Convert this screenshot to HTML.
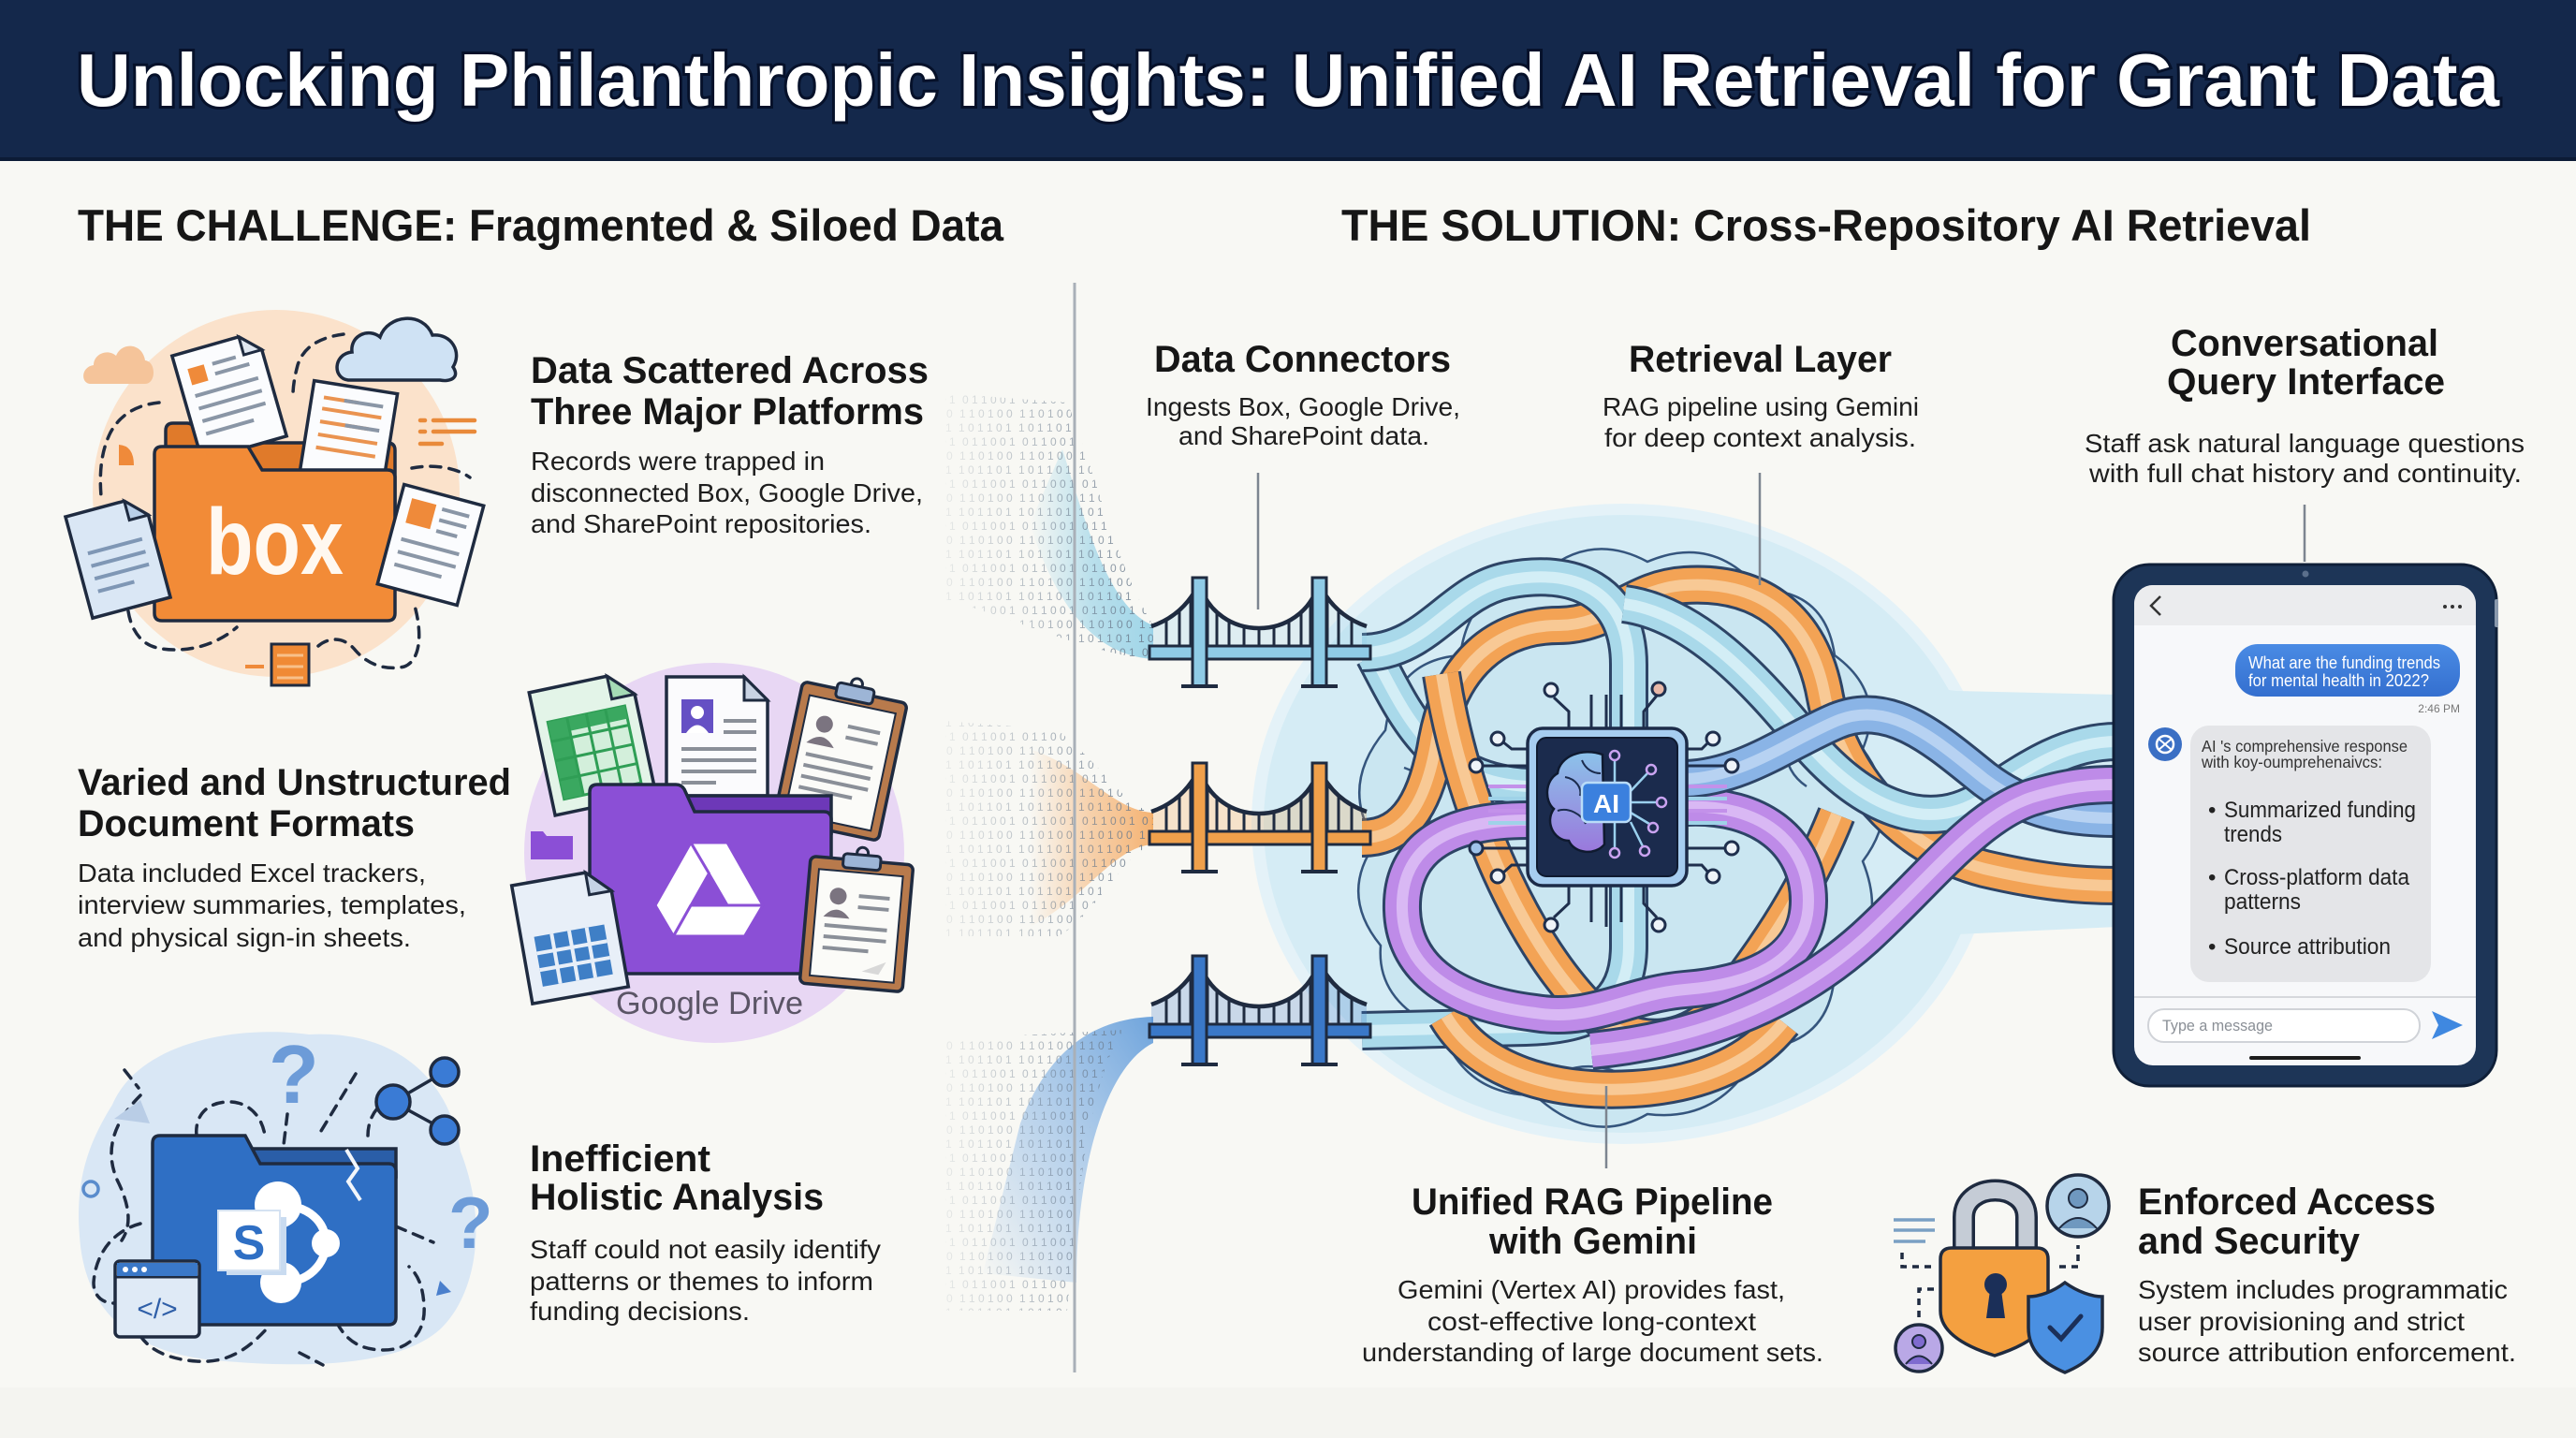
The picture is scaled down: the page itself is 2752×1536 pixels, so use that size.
<!DOCTYPE html>
<html><head><meta charset="utf-8">
<style>
html,body{margin:0;padding:0;background:#f8f8f4;}
svg{display:block}
text{font-family:"Liberation Sans",Arial,sans-serif;}
</style></head>
<body>
<svg width="2752" height="1536" viewBox="0 0 2752 1536" xmlns="http://www.w3.org/2000/svg">
<defs>
  <pattern id="digits" width="64" height="45" patternUnits="userSpaceOnUse">
    <text x="0" y="11" font-family="Liberation Mono, monospace" font-size="12" fill="#6a7a8c">1 0 1 1 0 1</text>
    <text x="4" y="26" font-family="Liberation Mono, monospace" font-size="12" fill="#6a7a8c">0 1 1 0 0 1</text>
    <text x="1" y="41" font-family="Liberation Mono, monospace" font-size="12" fill="#6a7a8c">1 1 0 1 0 0</text>
  </pattern>
  <linearGradient id="fadeL" x1="0" x2="1" y1="0" y2="0">
    <stop offset="0" stop-color="#fff" stop-opacity="0.05"/>
    <stop offset="0.6" stop-color="#fff" stop-opacity="0.6"/>
    <stop offset="1" stop-color="#fff" stop-opacity="0.9"/>
  </linearGradient>
  <mask id="mFade" maskUnits="userSpaceOnUse" x="990" y="400" width="250" height="1020">
    <rect x="990" y="400" width="250" height="1020" fill="url(#fadeL)"/>
  </mask>
  <linearGradient id="gTop" x1="0" x2="1" y1="0" y2="0">
    <stop offset="0" stop-color="#9fd5e8" stop-opacity="0"/>
    <stop offset="0.5" stop-color="#9fd5e8" stop-opacity="0.7"/>
    <stop offset="1" stop-color="#9fd5e8"/>
  </linearGradient>
  <linearGradient id="gMid" x1="0" x2="1" y1="0" y2="0">
    <stop offset="0" stop-color="#f6bf8a" stop-opacity="0"/>
    <stop offset="0.5" stop-color="#f6bf8a" stop-opacity="0.7"/>
    <stop offset="1" stop-color="#f4b272"/>
  </linearGradient>
  <linearGradient id="gBot" x1="1" y1="0" x2="0" y2="1">
    <stop offset="0" stop-color="#6fa4dc"/>
    <stop offset="0.6" stop-color="#8db8e6" stop-opacity="0.5"/>
    <stop offset="1" stop-color="#8db8e6" stop-opacity="0"/>
  </linearGradient>
  <linearGradient id="gBubble" x1="0" x2="0" y1="0" y2="1">
    <stop offset="0" stop-color="#4a8be4"/>
    <stop offset="1" stop-color="#346fcf"/>
  </linearGradient>
  <linearGradient id="gBrain" x1="0" x2="0" y1="0" y2="1">
    <stop offset="0" stop-color="#8cc3ea"/>
    <stop offset="1" stop-color="#9a78dc"/>
  </linearGradient>
  <clipPath id="screenClip"><rect x="2280" y="625" width="365" height="513" rx="20"/></clipPath>

  <g id="bridge">
    <path d="M0,-28 Q35,-40 51,-74 C70,-10 160,-10 179,-74 Q195,-40 230,-28 L230,-6 L0,-6 Z" fill="currentColor" fill-opacity="0.25"/>
    <path d="M16,-35V-6 M30,-45V-6 M42,-58V-6 M60,-55V-6 M70,-43V-6 M83,-34V-6 M99,-28V-6 M115,-26V-6 M131,-28V-6 M147,-34V-6 M160,-43V-6 M170,-55V-6 M188,-58V-6 M200,-45V-6 M214,-35V-6" stroke="#1f2b40" stroke-width="3" fill="none"/>
    <path d="M0,-28 Q35,-40 51,-74 C70,-10 160,-10 179,-74 Q195,-40 230,-28" stroke="#1f2b40" stroke-width="4.5" fill="none"/>
    <rect x="-2" y="-7" width="236" height="14" fill="currentColor" stroke="#1f2b40" stroke-width="3"/>
    <rect x="44" y="-80" width="15" height="116" fill="currentColor" stroke="#1f2b40" stroke-width="3"/>
    <rect x="172" y="-80" width="15" height="116" fill="currentColor" stroke="#1f2b40" stroke-width="3"/>
    <path d="M32,36 H71 M160,36 H199" stroke="#1f2b40" stroke-width="4"/>
  </g>

  <path id="tC2" d="M1468,700 C1500,760 1530,835 1632,840"/>
  <path id="tO1" d="M1455,895 C1505,895 1525,850 1535,790 C1550,710 1600,668 1665,668 C1720,668 1745,628 1800,625 C1880,620 1935,660 1950,745 C1965,825 2030,905 2120,928 C2180,942 2220,946 2262,946"/>
  <path id="tC1" d="M1455,697 C1525,697 1550,632 1610,620 C1680,606 1740,630 1740,710 L1740,1010 C1740,1075 1700,1095 1630,1097 L1455,1101"/>
  <path id="tO2" d="M1540,720 C1560,850 1620,1000 1700,1080 C1745,1122 1805,1118 1845,1068 C1890,1010 1930,950 1962,870"/>
  <path id="tO3" d="M1545,1085 C1580,1145 1660,1168 1745,1163 C1825,1158 1875,1130 1905,1092"/>
  <path id="tP1" d="M1801,862 C1880,858 1932,900 1932,962 C1932,1032 1862,1052 1800,1057 C1740,1062 1700,1092 1640,1082 C1560,1072 1500,1040 1498,972 C1496,910 1540,876 1632,876"/>
  <path id="tC3" d="M1735,645 C1810,655 1875,725 1930,792 C1990,862 2060,892 2120,852 C2170,818 2210,792 2262,792"/>
  <path id="tB" d="M1801,832 C1862,830 1910,792 1962,770 C2020,746 2070,792 2120,832 C2170,870 2220,874 2262,874"/>
  <path id="tP2" d="M1700,1122 C1800,1112 1905,1080 1992,1002 C2060,940 2110,872 2170,852 C2210,840 2232,838 2262,838"/>
</defs>

<!-- background -->
<rect width="2752" height="1536" fill="#f8f8f4"/>
<rect y="1482" width="2752" height="54" fill="#f4f4f0"/>

<!-- header -->
<rect width="2752" height="172" fill="#14284b"/>
<rect y="168" width="2752" height="4" fill="#0c1b36"/>
<text x="82" y="113" font-size="80" font-weight="700" fill="#ffffff" stroke="#06112a" stroke-width="6" paint-order="stroke" textLength="2588" lengthAdjust="spacingAndGlyphs">Unlocking Philanthropic Insights: Unified AI Retrieval for Grant Data</text>

<!-- section headings -->
<text x="83" y="257" font-size="47" font-weight="700" fill="#161616" textLength="989" lengthAdjust="spacingAndGlyphs">THE CHALLENGE: Fragmented &amp; Siloed Data</text>
<text x="1433" y="257" font-size="47" font-weight="700" fill="#161616" textLength="1036" lengthAdjust="spacingAndGlyphs">THE SOLUTION: Cross-Repository AI Retrieval</text>

<!-- ============ BOX ILLUSTRATION ============ -->
<circle cx="295" cy="527" r="196" fill="#fbe2cb"/>
<path d="M97,410 C86,410 86,392 100,390 C100,378 115,372 124,380 C130,365 152,366 155,385 C167,386 167,410 155,410 Z" fill="#f5c49a"/>
<path d="M372,406 C355,404 356,378 376,376 C374,358 394,350 406,360 C414,336 452,332 462,358 C482,356 494,376 484,392 C492,404 480,408 470,406 Z" fill="#cfe2f4" stroke="#1f2b40" stroke-width="3.5"/>
<g fill="none" stroke="#1f2b40" stroke-width="3.5" stroke-dasharray="11 9" stroke-linecap="round">
  <path d="M170,430 C150,432 130,440 118,462 C108,482 106,505 108,530"/>
  <path d="M367,357 C345,360 325,368 318,390 C314,405 313,415 313,422"/>
  <path d="M440,500 C460,496 485,498 502,510"/>
  <path d="M137,653 C140,672 150,688 168,692 C190,697 225,694 253,670"/>
  <path d="M340,690 C352,680 368,680 380,695 C395,712 415,716 432,712 C448,706 452,680 443,647"/>
</g>
<path d="M127,475 Q143,476 143,497 L127,497 Z" fill="#ef8a3a"/>
<g stroke="#e98a3a" stroke-width="4.5" stroke-linecap="round">
  <path d="M449,449 H454 M463,449 H507 M449,461 H454 M463,461 H507 M449,474 H472"/>
</g>
<rect x="290" y="688" width="40" height="44" fill="#f08a35" stroke="#1f2b40" stroke-width="3"/>
<path d="M296,700 H324 M296,712 H324 M296,724 H324" stroke="#f8c08a" stroke-width="3"/>
<path d="M262,712 H282" stroke="#ef8a3a" stroke-width="4"/>
<!-- folder back -->
<path d="M177,520 L177,460 Q177,452 185,452 L200,452 Q206,452 208,459 L212,473 L414,473 Q422,473 422,481 L422,540 Z" fill="#e07a2a" stroke="#1f2b40" stroke-width="3.5"/>
<!-- docs inside -->
<g transform="translate(245,423) rotate(-16)">
  <path d="M-47,-58 L27,-58 L47,-38 L47,58 L-47,58 Z" fill="#fbfcfe" stroke="#1f2b40" stroke-width="3.5"/>
  <path d="M27,-58 L27,-38 L47,-38 Z" fill="#dfe7f1" stroke="#1f2b40" stroke-width="3"/>
  <rect x="-35" y="-40" width="18" height="18" fill="#ef8a3a"/>
  <path d="M-8,-38 H18 M-8,-27 H30 M-35,-10 H35 M-35,4 H35 M-35,18 H35 M-35,32 H18" stroke="#8a96a6" stroke-width="4"/>
</g>
<g transform="translate(372,465) rotate(9)">
  <rect x="-45" y="-52" width="90" height="104" fill="#fbfcfe" stroke="#1f2b40" stroke-width="3.5"/>
  <path d="M-32,-36 H5 M-32,-24 H32 M-32,-10 H20 M-32,4 H32 M-32,18 H32" stroke="#ea9350" stroke-width="4"/>
  <path d="M-10,-36 H32 M-5,-10 H32" stroke="#8a96a6" stroke-width="4"/>
</g>
<!-- folder front -->
<path d="M165,485 Q165,477 173,477 L265,477 L280,502 L414,502 Q422,502 422,510 L422,655 Q422,663 414,663 L173,663 Q165,663 165,655 Z" fill="#f28b37" stroke="#1f2b40" stroke-width="3.5"/>
<text x="220" y="613" font-size="100" font-weight="700" fill="#fff8f0" textLength="147" lengthAdjust="spacingAndGlyphs">box</text>
<!-- docs outside -->
<g transform="translate(126,595) rotate(-15)">
  <path d="M-43,-56 L22,-56 L43,-35 L43,56 L-43,56 Z" fill="#dae7f5" stroke="#1f2b40" stroke-width="3.5"/>
  <path d="M22,-56 L22,-35 L43,-35 Z" fill="#b9cfe8" stroke="#1f2b40" stroke-width="3"/>
  <path d="M-30,-12 H30 M-30,2 H30 M-30,16 H30 M-30,30 H10" stroke="#7f97b5" stroke-width="4"/>
</g>
<g transform="translate(460,582) rotate(15)">
  <rect x="-44" y="-55" width="88" height="110" fill="#fbfcfe" stroke="#1f2b40" stroke-width="3.5"/>
  <rect x="-32" y="-43" width="27" height="27" fill="#ef8a3a"/>
  <path d="M2,-40 H32 M2,-28 H32 M2,-16 H25 M-32,2 H32 M-32,16 H32 M-32,30 H20" stroke="#8a96a6" stroke-width="4"/>
</g>

<!-- Left text block 1 -->
<g font-weight="700" font-size="40" fill="#161616">
  <text x="567" y="409" textLength="425" lengthAdjust="spacingAndGlyphs">Data Scattered Across</text>
  <text x="567" y="453" textLength="420" lengthAdjust="spacingAndGlyphs">Three Major Platforms</text>
</g>
<g font-size="28" fill="#1e1e1e">
  <text x="567" y="502" textLength="314" lengthAdjust="spacingAndGlyphs">Records were trapped in</text>
  <text x="567" y="536" textLength="419" lengthAdjust="spacingAndGlyphs">disconnected Box, Google Drive,</text>
  <text x="567" y="569" textLength="364" lengthAdjust="spacingAndGlyphs">and SharePoint repositories.</text>
</g>

<!-- ============ GOOGLE DRIVE ILLUSTRATION ============ -->
<circle cx="763" cy="911" r="203" fill="#e8d7f4"/>
<g transform="translate(633,794) rotate(-12)">
  <path d="M-55,-67 L30,-67 L55,-42 L55,67 L-55,67 Z" fill="#e3f4e8" stroke="#1f2b40" stroke-width="3.5"/>
  <path d="M30,-67 L30,-42 L55,-42 Z" fill="#a5dbb5" stroke="#1f2b40" stroke-width="3"/>
  <rect x="-42" y="-32" width="84" height="84" fill="#d3efdb" stroke="#2f9e55" stroke-width="3"/>
  <rect x="-42" y="-32" width="21" height="84" fill="#3aa860"/>
  <rect x="-42" y="-32" width="84" height="14" fill="#3aa860"/>
  <path d="M-21,-32 V52 M0,-32 V52 M21,-32 V52 M-42,-11 H42 M-42,10 H42 M-42,31 H42" stroke="#2f9e55" stroke-width="3"/>
</g>
<path d="M712,723 L795,723 L820,748 L820,850 L712,850 Z" fill="#fbfbfd" stroke="#1f2b40" stroke-width="3.5"/>
<path d="M795,723 L795,748 L820,748 Z" fill="#c9d3e3" stroke="#1f2b40" stroke-width="3"/>
<rect x="728" y="747" width="34" height="36" fill="#6550c4"/>
<circle cx="745" cy="761" r="7" fill="#fff"/>
<path d="M733,783 Q745,766 757,783 Z" fill="#fff"/>
<path d="M773,770 H808 M773,782 H808 M728,800 H808 M728,812 H808 M728,824 H808 M728,836 H765" stroke="#8a8f98" stroke-width="4"/>
<g transform="translate(898,813) rotate(12)">
  <rect x="-57" y="-75" width="114" height="150" rx="6" fill="#b87a4c" stroke="#1f2b40" stroke-width="3.5"/>
  <rect x="-47" y="-62" width="94" height="128" fill="#fbfbf8" stroke="#1f2b40" stroke-width="2"/>
  <circle cx="0" cy="-84" r="6" fill="none" stroke="#1f2b40" stroke-width="3"/>
  <rect x="-20" y="-82" width="40" height="16" rx="4" fill="#9db5d6" stroke="#1f2b40" stroke-width="3"/>
  <circle cx="-25" cy="-35" r="9" fill="#7b7480"/>
  <path d="M-40,-12 Q-25,-30 -10,-12 Z" fill="#7b7480"/>
  <path d="M0,-38 H35 M0,-26 H35 M-38,0 H35 M-38,12 H35 M-38,24 H35 M-38,36 H20" stroke="#8a8f98" stroke-width="4"/>
</g>
<path d="M567,888 L580,888 L584,893 L612,893 L612,918 L567,918 Z" fill="#8b4fd6"/>
<!-- folder -->
<rect x="720" y="850" width="168" height="40" fill="#6d38b8" stroke="#1f2b40" stroke-width="3.5"/>
<path d="M630,846 Q630,838 638,838 L722,838 Q728,838 731,843 L742,867 L880,867 Q888,867 888,875 L888,1032 Q888,1040 880,1040 L638,1040 Q630,1040 630,1032 Z" fill="#8b4fd6" stroke="#1f2b40" stroke-width="3.5"/>
<g fill="#ffffff" stroke="#8b4fd6" stroke-width="3" stroke-linejoin="round">
  <polygon points="738,900 777,900 815,967 777,967"/>
  <polygon points="738,900 757.5,933 719.5,1000 700,967"/>
  <polygon points="738,967 815,967 795.5,1000 719.5,1000"/>
</g>
<g transform="translate(609,1000) rotate(-10)">
  <path d="M-52,-64 L28,-64 L52,-40 L52,64 L-52,64 Z" fill="#e8eff8" stroke="#1f2b40" stroke-width="3.5"/>
  <path d="M28,-64 L28,-40 L52,-40 Z" fill="#c5d3e6" stroke="#1f2b40" stroke-width="3"/>
  <rect x="-38" y="-6" width="76" height="54" fill="#3f7fc6"/>
  <path d="M-19,-6 V48 M0,-6 V48 M19,-6 V48 M-38,12 H38 M-38,30 H38" stroke="#e8eff8" stroke-width="4"/>
</g>
<g transform="translate(915,987) rotate(5)">
  <rect x="-55" y="-68" width="110" height="136" rx="6" fill="#b87a4c" stroke="#1f2b40" stroke-width="3.5"/>
  <rect x="-45" y="-55" width="90" height="114" fill="#fbfbf8" stroke="#1f2b40" stroke-width="2"/>
  <circle cx="0" cy="-76" r="6" fill="none" stroke="#1f2b40" stroke-width="3"/>
  <rect x="-20" y="-74" width="40" height="15" rx="4" fill="#9db5d6" stroke="#1f2b40" stroke-width="3"/>
  <circle cx="-22" cy="-28" r="9" fill="#7b7480"/>
  <path d="M-36,-5 Q-22,-22 -8,-5 Z" fill="#7b7480"/>
  <path d="M0,-30 H33 M0,-18 H33 M-34,4 H33 M-34,16 H33 M-34,28 H15" stroke="#8a8f98" stroke-width="4"/>
  <path d="M10,50 L35,38 L28,52 Z" fill="#d8d8d8"/>
</g>
<text x="658" y="1083" font-size="34" fill="#5b5566" textLength="200" lengthAdjust="spacingAndGlyphs">Google Drive</text>

<!-- Left text block 2 -->
<g font-weight="700" font-size="40" fill="#161616">
  <text x="83" y="849" textLength="463" lengthAdjust="spacingAndGlyphs">Varied and Unstructured</text>
  <text x="83" y="893" textLength="360" lengthAdjust="spacingAndGlyphs">Document Formats</text>
</g>
<g font-size="28" fill="#1e1e1e">
  <text x="83" y="942" textLength="372" lengthAdjust="spacingAndGlyphs">Data included Excel trackers,</text>
  <text x="83" y="976" textLength="415" lengthAdjust="spacingAndGlyphs">interview summaries, templates,</text>
  <text x="83" y="1011" textLength="356" lengthAdjust="spacingAndGlyphs">and physical sign-in sheets.</text>
</g>

<!-- ============ SHAREPOINT ILLUSTRATION ============ -->
<path d="M120,1180 C150,1110 260,1095 330,1105 C420,1100 480,1150 492,1230 C520,1300 512,1380 470,1420 C420,1465 300,1460 220,1452 C140,1442 90,1400 85,1320 C80,1260 95,1220 120,1180 Z" fill="#d9e7f5"/>
<g fill="none" stroke="#1f2b40" stroke-width="3.5" stroke-dasharray="11 9" stroke-linecap="round">
  <path d="M210,1213 C208,1195 218,1178 243,1177 C265,1176 280,1192 283,1213"/>
  <path d="M307,1190 L303,1223"/>
  <path d="M380,1147 L340,1213"/>
  <path d="M150,1170 C125,1195 110,1225 125,1260 C140,1290 140,1310 130,1325"/>
  <path d="M150,1307 C120,1315 102,1340 100,1370 C100,1385 110,1392 122,1392"/>
  <path d="M150,1427 C160,1442 180,1452 210,1454 C240,1456 262,1445 287,1417"/>
  <path d="M360,1413 C370,1432 385,1442 410,1442 C440,1442 455,1420 453,1395 C452,1375 447,1362 437,1353"/>
  <path d="M423,1310 L463,1327"/>
  <path d="M393,1213 C393,1200 398,1186 410,1178"/>
  <path d="M133,1143 L148,1162"/>
  <path d="M320,1445 L345,1458"/>
</g>
<path d="M122,1195 L150,1175 L160,1200 Z" fill="#b9cde6"/>
<circle cx="97" cy="1270" r="8" fill="none" stroke="#5a8ccc" stroke-width="3.5"/>
<text x="287" y="1178" font-size="88" font-weight="700" fill="#6c9bd8">?</text>
<text x="479" y="1333" font-size="78" font-weight="700" fill="#6c9bd8">?</text>
<path d="M470,1368 L482,1380 L466,1384 Z" fill="#4a7fcc"/>
<!-- share icon -->
<path d="M420,1177 L475,1145 M420,1177 L475,1207" stroke="#1f2b40" stroke-width="3.5"/>
<circle cx="475" cy="1145" r="15" fill="#3a7bd5" stroke="#1f2b40" stroke-width="3.5"/>
<circle cx="420" cy="1177" r="18" fill="#3a7bd5" stroke="#1f2b40" stroke-width="3.5"/>
<circle cx="475" cy="1207" r="15" fill="#3a7bd5" stroke="#1f2b40" stroke-width="3.5"/>
<!-- folder -->
<rect x="262" y="1227" width="161" height="30" fill="#2a5ea8" stroke="#1f2b40" stroke-width="3.5"/>
<path d="M163,1221 Q163,1213 171,1213 L262,1213 L278,1243 L415,1243 Q423,1243 423,1251 L423,1407 Q423,1415 415,1415 L171,1415 Q163,1415 163,1407 Z" fill="#2f6fc4" stroke="#1f2b40" stroke-width="3.5"/>
<path d="M370,1228 L382,1248 L372,1262 L385,1282" fill="none" stroke="#f2f6fb" stroke-width="4"/>
<path d="M297,1287 C330,1287 348,1305 348,1328 C348,1350 330,1370 300,1370" fill="none" stroke="#ffffff" stroke-width="9"/>
<circle cx="297" cy="1287" r="25" fill="#ffffff"/>
<circle cx="348" cy="1328" r="15" fill="#ffffff"/>
<circle cx="300" cy="1370" r="22" fill="#ffffff"/>
<rect x="242" y="1300" width="64" height="62" fill="#c9dbf0"/>
<rect x="233" y="1293" width="66" height="64" fill="#ffffff" stroke="#d5e2f2" stroke-width="2"/>
<text x="266" y="1345" font-size="52" font-weight="700" fill="#2f6fc4" text-anchor="middle">S</text>
<!-- code window -->
<rect x="123" y="1347" width="90" height="81" rx="5" fill="#dfeaf6" stroke="#1f2b40" stroke-width="3.5"/>
<path d="M124.5,1364 H211.5" stroke="#1f2b40" stroke-width="3"/>
<rect x="125" y="1349" width="86" height="14" fill="#3a78c8"/>
<circle cx="134" cy="1356" r="3" fill="#fff"/><circle cx="144" cy="1356" r="3" fill="#fff"/><circle cx="154" cy="1356" r="3" fill="#fff"/>
<text x="168" y="1408" font-size="30" fill="#2f5fa8" text-anchor="middle">&lt;/&gt;</text>

<!-- Left text block 3 -->
<g font-weight="700" font-size="40" fill="#161616">
  <text x="566" y="1251" textLength="193" lengthAdjust="spacingAndGlyphs">Inefficient</text>
  <text x="566" y="1292" textLength="314" lengthAdjust="spacingAndGlyphs">Holistic Analysis</text>
</g>
<g font-size="28" fill="#1e1e1e">
  <text x="566" y="1344" textLength="375" lengthAdjust="spacingAndGlyphs">Staff could not easily identify</text>
  <text x="566" y="1378" textLength="367" lengthAdjust="spacingAndGlyphs">patterns or themes to inform</text>
  <text x="566" y="1410" textLength="235" lengthAdjust="spacingAndGlyphs">funding decisions.</text>
</g>

<!-- ============ DATA STREAMS ============ -->
<path d="M1135,480 C1160,560 1185,650 1232,668 L1232,704 C1170,700 1130,650 1100,560 Z" fill="url(#gTop)"/>
<path d="M1100,800 C1160,820 1190,866 1232,868 L1232,902 C1190,904 1160,960 1100,990 Z" fill="url(#gMid)"/>
<path d="M1232,1086 C1170,1088 1120,1120 1090,1200 L1050,1360 L1150,1370 C1150,1250 1180,1140 1232,1114 Z" fill="url(#gBot)"/>
<g mask="url(#mFade)">
  <path d="M1010,420 L1140,430 C1170,500 1190,600 1232,668 L1232,704 C1170,700 1110,670 1010,640 Z" fill="url(#digits)"/>
  <path d="M1010,770 L1130,780 C1180,820 1200,860 1232,868 L1232,902 C1200,910 1170,980 1130,1000 L1010,1000 Z" fill="url(#digits)"/>
  <path d="M1010,1110 L1200,1100 C1160,1160 1150,1300 1140,1400 L1010,1400 Z" fill="url(#digits)"/>
</g>

<!-- divider -->
<line x1="1148" y1="302" x2="1148" y2="1466" stroke="#a9b0b8" stroke-width="3"/>

<!-- ============ CENTRAL BLOB ============ -->
<ellipse cx="1735" cy="880" rx="398" ry="342" fill="#e4f2f8"/>
<ellipse cx="1735" cy="880" rx="385" ry="330" fill="#d5ecf5"/>
<path d="M1900,590 C1990,640 2000,730 2090,738 L2262,742 L2262,990 L2090,998 C2000,1006 1990,1130 1900,1170 Z" fill="#d5ecf5"/>
<!-- brain -->
<path d="M1470,900 Q1430,840 1480,780 Q1490,705 1560,700 Q1570,625 1640,620 Q1695,565 1760,600 Q1830,570 1880,630 Q1950,630 1960,700 Q2015,740 1990,800 Q2035,860 1990,920 Q2020,995 1960,1040 Q1955,1115 1880,1120 Q1840,1200 1760,1190 Q1700,1225 1640,1170 Q1565,1170 1540,1100 Q1470,1070 1475,1010 Q1430,955 1470,900 Z" fill="#cae6f1" stroke="#35557d" stroke-width="2.5"/>
<g fill="none" stroke="#35557d" stroke-width="2.5">
  <path d="M1500,820 C1530,830 1540,860 1520,890"/>
  <path d="M1620,660 C1640,690 1680,690 1700,670"/>
  <path d="M1660,1150 C1690,1130 1730,1140 1750,1160"/>
  <path d="M1930,760 C1900,780 1900,820 1930,840"/>
</g>

<!-- tubes -->
<g fill="none" stroke-linecap="butt">
  <use href="#tC2" stroke="#2d4466" stroke-width="42"/><use href="#tC2" stroke="#a9d9ea" stroke-width="36"/><use href="#tC2" stroke="#d3eef6" stroke-width="12"/>
  <use href="#tO1" stroke="#2d4466" stroke-width="42"/><use href="#tO1" stroke="#f3a355" stroke-width="36"/><use href="#tO1" stroke="#f8c995" stroke-width="12"/>
  <use href="#tC1" stroke="#2d4466" stroke-width="42"/><use href="#tC1" stroke="#a9d9ea" stroke-width="36"/><use href="#tC1" stroke="#d3eef6" stroke-width="12"/>
  <use href="#tO2" stroke="#2d4466" stroke-width="42"/><use href="#tO2" stroke="#f3a355" stroke-width="36"/><use href="#tO2" stroke="#f8c995" stroke-width="12"/>
  <use href="#tO3" stroke="#2d4466" stroke-width="42"/><use href="#tO3" stroke="#f3a355" stroke-width="36"/><use href="#tO3" stroke="#f8c995" stroke-width="12"/>
  <use href="#tP1" stroke="#2d4466" stroke-width="42"/><use href="#tP1" stroke="#be8be8" stroke-width="36"/><use href="#tP1" stroke="#d9b8f4" stroke-width="12"/>
  <use href="#tC3" stroke="#2d4466" stroke-width="42"/><use href="#tC3" stroke="#a9d9ea" stroke-width="36"/><use href="#tC3" stroke="#d3eef6" stroke-width="12"/>
  <use href="#tB" stroke="#2d4466" stroke-width="42"/><use href="#tB" stroke="#8ab4e6" stroke-width="36"/><use href="#tB" stroke="#b7d2f2" stroke-width="12"/>
  <use href="#tP2" stroke="#2d4466" stroke-width="42"/><use href="#tP2" stroke="#be8be8" stroke-width="36"/><use href="#tP2" stroke="#d9b8f4" stroke-width="12"/>
</g>

<!-- bridges -->
<use href="#bridge" x="1230" y="697" color="#8fcbe6"/>
<use href="#bridge" x="1230" y="895" color="#f0a04b"/>
<use href="#bridge" x="1230" y="1101" color="#3a78c8"/>

<!-- connector lines -->
<g stroke="#7d8590" stroke-width="2.5">
  <line x1="1344" y1="505" x2="1344" y2="651"/>
  <line x1="1880" y1="505" x2="1880" y2="625"/>
  <line x1="2462" y1="539" x2="2462" y2="600"/>
  <line x1="1716" y1="1160" x2="1716" y2="1248"/>
</g>

<!-- chip pins -->
<g stroke="#1f2f4d" stroke-width="3" fill="none">
  <path d="M1700,778 V742 M1716,778 V742 M1732,778 V742"/>
  <path d="M1676,778 V760 L1660,745"/>
  <path d="M1756,778 V760 L1770,743"/>
  <path d="M1632,800 H1615 L1605,792"/>
  <path d="M1632,818 H1584"/>
  <path d="M1632,906 H1584"/>
  <path d="M1632,924 H1615 L1605,933"/>
  <path d="M1801,800 H1818 L1826,792"/>
  <path d="M1801,818 H1843"/>
  <path d="M1801,906 H1843"/>
  <path d="M1801,924 H1818 L1826,933"/>
  <path d="M1700,945 V985 M1716,945 V990 M1732,945 V985"/>
  <path d="M1676,945 V965 L1660,980"/>
  <path d="M1756,945 V965 L1770,980"/>
</g>
<g stroke-width="4">
  <path d="M1590,840 H1632 M1590,866 H1632" stroke="#c391ea"/>
  <path d="M1590,853 H1632 M1590,879 H1632" stroke="#9fd2e8"/>
  <path d="M1801,840 H1845 M1801,866 H1845" stroke="#c391ea"/>
  <path d="M1801,853 H1845 M1801,879 H1845" stroke="#9fd2e8"/>
</g>
<g fill="#eef3f8" stroke="#1f2f4d" stroke-width="3">
  <circle cx="1657" cy="737" r="7"/><circle cx="1772" cy="736" r="7" fill="#e8b8a8"/>
  <circle cx="1600" cy="789" r="7"/><circle cx="1577" cy="818" r="7"/>
  <circle cx="1577" cy="906" r="7" fill="#9fc3ea"/><circle cx="1600" cy="936" r="7"/>
  <circle cx="1830" cy="789" r="7"/><circle cx="1850" cy="818" r="7"/>
  <circle cx="1850" cy="906" r="7"/><circle cx="1830" cy="936" r="7"/>
  <circle cx="1657" cy="988" r="7"/><circle cx="1772" cy="988" r="7"/>
</g>
<!-- chip -->
<rect x="1632" y="778" width="170" height="168" rx="16" fill="#a6cdf0" stroke="#1c2b48" stroke-width="3.5"/>
<rect x="1642" y="788" width="150" height="148" rx="10" fill="#1b2b4d" stroke="#0f1a30" stroke-width="2"/>
<path d="M1712,806 C1690,798 1666,808 1664,826 C1650,834 1650,856 1660,864 C1650,878 1660,898 1676,898 C1682,912 1704,914 1714,902 Z" fill="url(#gBrain)" stroke="#0f1a30" stroke-width="2.5"/>
<path d="M1672,830 C1684,832 1690,842 1688,850 M1664,866 C1676,862 1690,870 1694,880 M1690,812 C1694,822 1702,826 1710,826" fill="none" stroke="#1b2b4d" stroke-width="2"/>
<g stroke="#9ad0ee" stroke-width="2.5" fill="none">
  <path d="M1725,836 V812 M1742,845 L1760,826 M1742,857 H1770 M1742,868 L1762,880 M1725,878 V906 M1742,878 L1755,904"/>
</g>
<g fill="none" stroke="#c9a3f0" stroke-width="2.5">
  <circle cx="1725" cy="807" r="5"/><circle cx="1764" cy="822" r="5"/><circle cx="1775" cy="857" r="5"/>
  <circle cx="1766" cy="884" r="5"/><circle cx="1725" cy="911" r="5"/><circle cx="1757" cy="909" r="5"/>
</g>
<rect x="1690" y="836" width="52" height="42" rx="6" fill="#3b80de" stroke="#b9dcf8" stroke-width="2.5"/>
<text x="1716" y="868" font-size="28" font-weight="700" fill="#ffffff" text-anchor="middle">AI</text>

<!-- ============ TABLET ============ -->
<rect x="2258" y="603" width="409" height="557" rx="38" fill="#1d3557" stroke="#0f1f38" stroke-width="3"/>
<rect x="2665" y="640" width="4" height="30" rx="2" fill="#8a99ad"/>
<circle cx="2463" cy="613" r="3.5" fill="#5a6f8c"/>
<g clip-path="url(#screenClip)">
  <rect x="2280" y="625" width="365" height="513" fill="#f7f8fa"/>
  <rect x="2280" y="625" width="365" height="43" fill="#ebecee"/>
</g>
<path d="M2308,637 L2298,647 L2308,657" fill="none" stroke="#333" stroke-width="2.5"/>
<circle cx="2612" cy="648" r="2" fill="#333"/><circle cx="2620" cy="648" r="2" fill="#333"/><circle cx="2628" cy="648" r="2" fill="#333"/>
<rect x="2388" y="688" width="240" height="56" rx="24" fill="url(#gBubble)"/>
<text x="2402" y="714" font-size="18" fill="#ffffff" textLength="205" lengthAdjust="spacingAndGlyphs">What are the funding trends</text>
<text x="2402" y="733" font-size="18" fill="#ffffff" textLength="193" lengthAdjust="spacingAndGlyphs">for mental health in 2022?</text>
<text x="2628" y="761" font-size="12" fill="#777" text-anchor="end">2:46 PM</text>
<circle cx="2313" cy="795" r="18" fill="#3a6fc4"/>
<circle cx="2313" cy="795" r="9" fill="none" stroke="#ffffff" stroke-width="2.5"/>
<path d="M2306,789 L2320,801 M2320,789 L2306,801" stroke="#ffffff" stroke-width="2"/>
<rect x="2340" y="775" width="257" height="274" rx="20" fill="#e4e5e8"/>
<text x="2352" y="803" font-size="17.5" fill="#333" textLength="220" lengthAdjust="spacingAndGlyphs">AI 's comprehensive response</text>
<text x="2352" y="820" font-size="17.5" fill="#333" textLength="193" lengthAdjust="spacingAndGlyphs">with koy-oumprehenaivcs:</text>
<g font-size="24" fill="#222">
  <text x="2359" y="873">•</text>
  <text x="2376" y="873" textLength="205" lengthAdjust="spacingAndGlyphs">Summarized funding</text>
  <text x="2376" y="899" textLength="62" lengthAdjust="spacingAndGlyphs">trends</text>
  <text x="2359" y="945">•</text>
  <text x="2376" y="945" textLength="198" lengthAdjust="spacingAndGlyphs">Cross-platform data</text>
  <text x="2376" y="971" textLength="82" lengthAdjust="spacingAndGlyphs">patterns</text>
  <text x="2359" y="1019">•</text>
  <text x="2376" y="1019" textLength="178" lengthAdjust="spacingAndGlyphs">Source attribution</text>
</g>
<line x1="2280" y1="1065" x2="2645" y2="1065" stroke="#d6d8dc" stroke-width="2"/>
<rect x="2295" y="1078" width="290" height="35" rx="17" fill="#ffffff" stroke="#d0d3d8" stroke-width="2"/>
<text x="2310" y="1101" font-size="17" fill="#8a8f96" textLength="118" lengthAdjust="spacingAndGlyphs">Type a message</text>
<path d="M2598,1080 L2631,1095 L2598,1110 L2605,1095 Z" fill="#3f88e0"/>
<line x1="2405" y1="1130" x2="2520" y2="1130" stroke="#1c1c1c" stroke-width="4" stroke-linecap="round"/>

<!-- ============ LOCK ICON ============ -->
<path d="M2023,1303 H2067 M2023,1314 H2067 M2023,1326 H2057" stroke="#7aa0c4" stroke-width="3.5"/>
<g fill="none" stroke="#1f2b40" stroke-width="3.5" stroke-dasharray="7 6">
  <path d="M2032,1338 V1353 H2063"/>
  <path d="M2200,1353 H2220 V1330"/>
  <path d="M2050,1407 V1377 H2067"/>
</g>
<path d="M2098,1335 V1300 C2098,1262 2165,1262 2165,1300 V1335" fill="none" stroke="#1f2b40" stroke-width="24"/>
<path d="M2098,1335 V1300 C2098,1262 2165,1262 2165,1300 V1335" fill="none" stroke="#c5ccd6" stroke-width="17"/>
<path d="M2073,1345 Q2073,1333 2085,1333 L2176,1333 Q2188,1333 2188,1345 L2188,1400 Q2188,1430 2131,1448 Q2073,1430 2073,1400 Z" fill="#f4a040" stroke="#1f2b40" stroke-width="3.5"/>
<circle cx="2132" cy="1372" r="12" fill="#1b2f58"/>
<path d="M2126,1378 L2122,1408 L2142,1408 L2138,1378 Z" fill="#1b2f58"/>
<path d="M2206,1370 C2220,1380 2235,1385 2246,1385 L2246,1418 C2246,1442 2230,1456 2206,1466 C2182,1456 2167,1442 2167,1418 L2167,1385 C2178,1385 2193,1380 2206,1370 Z" fill="#4a90e2" stroke="#1f2b40" stroke-width="3.5"/>
<path d="M2190,1418 L2202,1430 L2223,1406" fill="none" stroke="#1b2f58" stroke-width="5" stroke-linecap="round"/>
<circle cx="2220" cy="1288" r="33" fill="#b7d4ea" stroke="#1f2b40" stroke-width="3.5"/>
<circle cx="2220" cy="1280" r="10" fill="#6f98bf" stroke="#1f2b40" stroke-width="2"/>
<path d="M2200,1312 Q2220,1290 2240,1312" fill="#6f98bf" stroke="#1f2b40" stroke-width="2"/>
<circle cx="2050" cy="1440" r="25" fill="#b9a8e6" stroke="#1f2b40" stroke-width="3.5"/>
<circle cx="2050" cy="1433" r="7" fill="#7f6bcf" stroke="#1f2b40" stroke-width="2"/>
<path d="M2036,1457 Q2050,1440 2064,1457" fill="#7f6bcf" stroke="#1f2b40" stroke-width="2"/>

<!-- ============ RIGHT TEXTS ============ -->
<g font-weight="700" font-size="40" fill="#161616">
  <text x="1233" y="397" textLength="317" lengthAdjust="spacingAndGlyphs">Data Connectors</text>
  <text x="1740" y="397" textLength="281" lengthAdjust="spacingAndGlyphs">Retrieval Layer</text>
  <text x="2319" y="380" textLength="286" lengthAdjust="spacingAndGlyphs">Conversational</text>
  <text x="2315" y="421" textLength="297" lengthAdjust="spacingAndGlyphs">Query Interface</text>
  <text x="1508" y="1297" textLength="386" lengthAdjust="spacingAndGlyphs">Unified RAG Pipeline</text>
  <text x="1591" y="1339" textLength="222" lengthAdjust="spacingAndGlyphs">with Gemini</text>
  <text x="2284" y="1297" textLength="318" lengthAdjust="spacingAndGlyphs">Enforced Access</text>
  <text x="2284" y="1339" textLength="237" lengthAdjust="spacingAndGlyphs">and Security</text>
</g>
<g font-size="28" fill="#1e1e1e">
  <text x="1224" y="444" textLength="336" lengthAdjust="spacingAndGlyphs">Ingests Box, Google Drive,</text>
  <text x="1259" y="475" textLength="268" lengthAdjust="spacingAndGlyphs">and SharePoint data.</text>
  <text x="1712" y="444" textLength="338" lengthAdjust="spacingAndGlyphs">RAG pipeline using Gemini</text>
  <text x="1714" y="477" textLength="333" lengthAdjust="spacingAndGlyphs">for deep context analysis.</text>
  <text x="2227" y="483" textLength="470" lengthAdjust="spacingAndGlyphs">Staff ask natural language questions</text>
  <text x="2232" y="515" textLength="462" lengthAdjust="spacingAndGlyphs">with full chat history and continuity.</text>
  <text x="1493" y="1387" textLength="414" lengthAdjust="spacingAndGlyphs">Gemini (Vertex AI) provides fast,</text>
  <text x="1525" y="1421" textLength="351" lengthAdjust="spacingAndGlyphs">cost-effective long-context</text>
  <text x="1455" y="1454" textLength="493" lengthAdjust="spacingAndGlyphs">understanding of large document sets.</text>
  <text x="2284" y="1387" textLength="395" lengthAdjust="spacingAndGlyphs">System includes programmatic</text>
  <text x="2284" y="1421" textLength="349" lengthAdjust="spacingAndGlyphs">user provisioning and strict</text>
  <text x="2284" y="1454" textLength="404" lengthAdjust="spacingAndGlyphs">source attribution enforcement.</text>
</g>
</svg>
</body></html>
